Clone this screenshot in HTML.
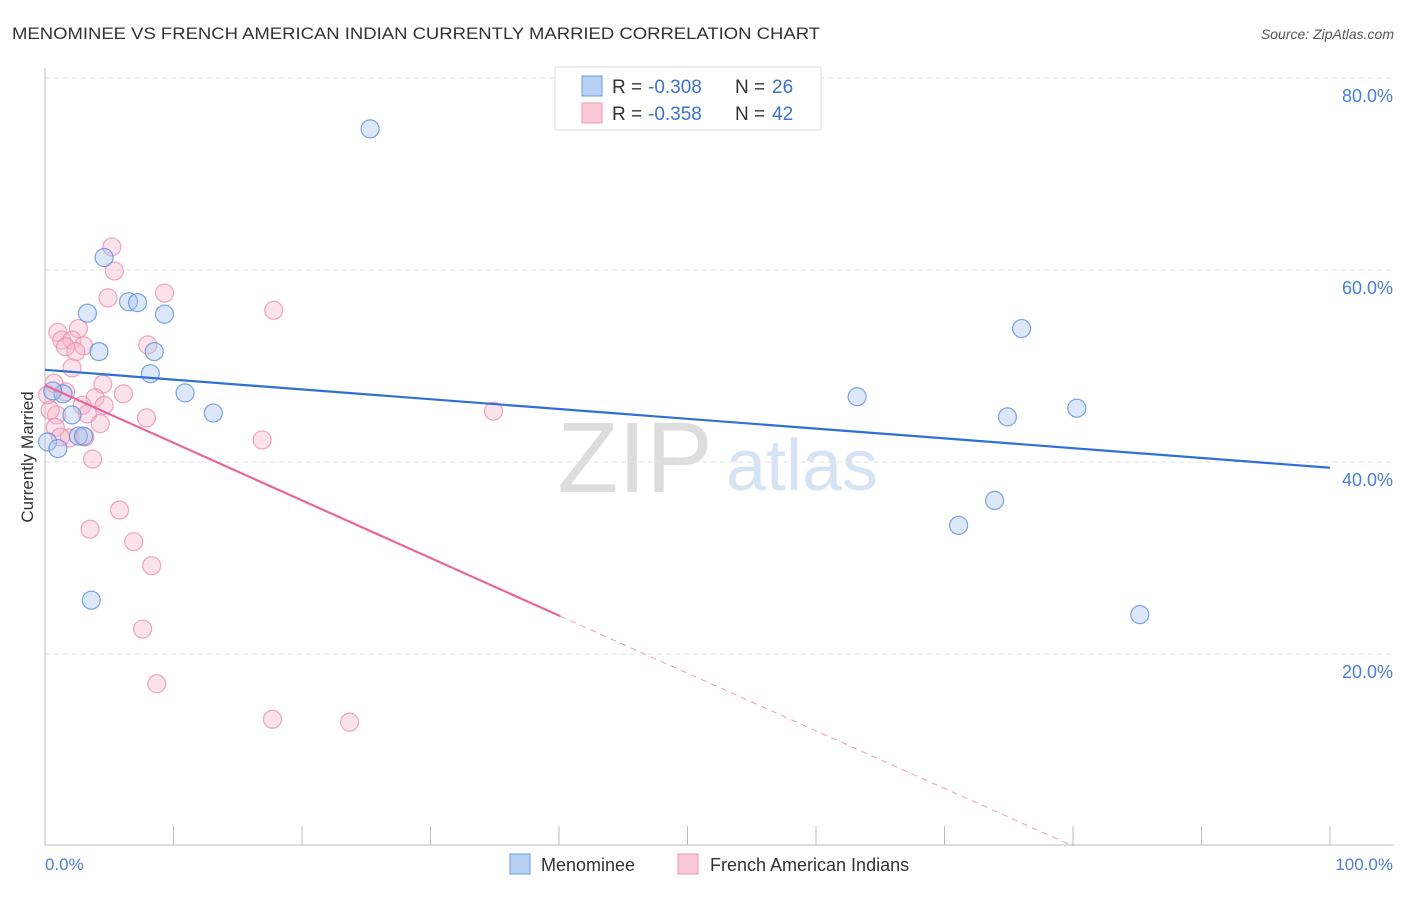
<!DOCTYPE html>
<html><head><meta charset="utf-8"><style>
body{margin:0;background:#fff;font-family:"Liberation Sans",sans-serif}
svg text{font-family:"Liberation Sans",sans-serif}
</style></head><body>
<svg id="c" width="1406" height="892" xmlns="http://www.w3.org/2000/svg">
<text x="12" y="39" font-size="17" fill="#333" textLength="808" lengthAdjust="spacingAndGlyphs">MENOMINEE VS FRENCH AMERICAN INDIAN CURRENTLY MARRIED CORRELATION CHART</text>
<text x="1394" y="39" font-size="14" fill="#555" text-anchor="end" font-style="italic">Source: ZipAtlas.com</text>
<text x="635" y="492" font-size="100" fill="#ddd" font-family="Liberation Serif" text-anchor="middle">ZIP</text>
<text x="802" y="490" font-size="72" fill="#d6e3f5" text-anchor="middle">atlas</text>
<g id="grid"></g>
<g id="marks"></g>
<text transform="translate(33,457) rotate(-90)" font-size="17" fill="#333" text-anchor="middle">Currently Married</text>
<text x="45" y="870" font-size="17" fill="#4a7fd4">0.0%</text>
<text x="1393" y="870" font-size="17" fill="#4a7fd4" text-anchor="end">100.0%</text>
<g>
<rect x="555" y="67" width="266" height="63" fill="#fff" stroke="#ddd"/>
<rect x="582" y="76" width="20" height="20" fill="#b8d0f4" stroke="#6b9be0"/>
<rect x="582" y="103" width="20" height="20" fill="#fac8d6" stroke="#e99ab2"/>
<text x="612" y="93" font-size="19" fill="#333">R =</text>
<text x="648" y="93" font-size="19" fill="#3a72d0">-0.308</text>
<text x="735" y="93" font-size="19" fill="#333">N =</text>
<text x="772" y="93" font-size="19" fill="#3a72d0">26</text>
<text x="612" y="120" font-size="19" fill="#333">R =</text>
<text x="648" y="120" font-size="19" fill="#3a72d0">-0.358</text>
<text x="735" y="120" font-size="19" fill="#333">N =</text>
<text x="772" y="120" font-size="19" fill="#3a72d0">42</text>
</g>
<g>
<rect x="510" y="854" width="20" height="20" fill="#b8d0f4" stroke="#6b9be0"/>
<text x="541" y="871" font-size="18" fill="#333">Menominee</text>
<rect x="678" y="854" width="20" height="20" fill="#fac8d6" stroke="#e99ab2"/>
<text x="710" y="871" font-size="18" fill="#333">French American Indians</text>
</g>
</svg>
<script>
const blueX=[25.3,4.6,6.5,7.2,3.3,9.3,4.2,8.5,8.2,10.9,13.1,2.1,1.4,0.6,0.2,1.0,2.6,3.0,3.6,63.2,76.0,74.9,80.3,73.9,71.1,85.2];
const blueY=[74.7,61.3,56.7,56.6,55.5,55.4,51.5,51.5,49.2,47.2,45.1,44.9,47.1,47.4,42.1,41.4,42.7,42.7,25.6,46.8,53.9,44.7,45.6,36.0,33.4,24.1];
const pinkX=[5.2,5.4,4.9,9.3,17.8,1.0,2.6,1.3,2.1,1.6,3.0,2.4,8.0,2.1,4.5,0.7,1.6,6.1,3.9,2.9,4.6,0.9,3.3,7.9,4.3,0.8,1.9,3.1,16.9,3.7,34.9,5.8,3.5,6.9,8.3,7.6,8.7,17.7,23.7,0.4,0.2,1.2];
const pinkY=[62.4,59.9,57.1,57.6,55.8,53.5,53.9,52.7,52.7,52.0,52.1,51.5,52.2,49.8,48.1,48.2,47.3,47.1,46.7,45.9,45.9,44.9,45.0,44.6,44.0,43.6,42.5,42.6,42.3,40.3,45.3,35.0,33.0,31.7,29.2,22.6,16.9,13.2,12.9,45.4,47.0,42.6];
const yTicks=[20,40,60,80];
const xTicks=[0,10,20,30,40,50,60,70,80,90,100];
const blueTrend=[49.6,39.4];
const pinkTrend=[48.0,-0.6];
const sx=v=>45+v*12.85, sy=v=>846-v*9.6;
const NS="http://www.w3.org/2000/svg";
function mk(t,a,p){const e=document.createElementNS(NS,t);for(const k in a)e.setAttribute(k,a[k]);p.appendChild(e);return e;}
const g=document.getElementById('grid'), m=document.getElementById('marks');
yTicks.forEach(t=>{
 const l=mk('line',{x1:45,x2:1393,y1:sy(t),y2:sy(t),stroke:'#e2e2e2','stroke-dasharray':'5,4'},g);
 
 
 const tx=mk('text',{x:1393,y:sy(t)+24,'font-size':18,fill:'#4a7fd4','text-anchor':'end'},g);
 tx.textContent=t.toFixed(1)+'%';
 
 
});
const ax=mk('line',{x1:45,x2:1393,y1:845,y2:845,stroke:'#bbb'},g);


const ay=mk('line',{x1:45,x2:45,y1:68,y2:845,stroke:'#bbb'},g);


xTicks.forEach(t=>{
 const l=mk('line',{x1:sx(t),x2:sx(t),y1:826,y2:845,stroke:'#bbb'},g);
 
 
});
function pts(X,Y,fill,stroke,name){
 X.forEach((x,i)=>{
  const c=mk('circle',{cx:sx(x),cy:sy(Y[i]),r:9,fill:fill,stroke:stroke,'stroke-width':1.2,'stroke-opacity':0.8},m);
  
  
 });
}
pts(pinkX,pinkY,'rgba(248,180,202,0.38)','#eb90ae','french-american-indian-point');
pts(blueX,blueY,'rgba(164,194,240,0.38)','#5b8ee0','menominee-point');
const bl=mk('line',{x1:sx(0),y1:sy(blueTrend[0]),x2:sx(100),y2:sy(blueTrend[1]),stroke:'#2f6fd6','stroke-width':2.2},m);


const pEnd=40.1, pZero=-pinkTrend[0]/pinkTrend[1];
const pl=mk('line',{x1:sx(0),y1:sy(pinkTrend[0]),x2:sx(pEnd),y2:sy(pinkTrend[0]+pinkTrend[1]*pEnd),stroke:'#e8679a','stroke-width':2.2},m);


const pd=mk('line',{x1:sx(pEnd),y1:sy(pinkTrend[0]+pinkTrend[1]*pEnd),x2:sx(pZero),y2:sy(0),stroke:'#e8a0b8','stroke-width':1,'stroke-dasharray':'6,5'},m);


</script>
</body></html>
